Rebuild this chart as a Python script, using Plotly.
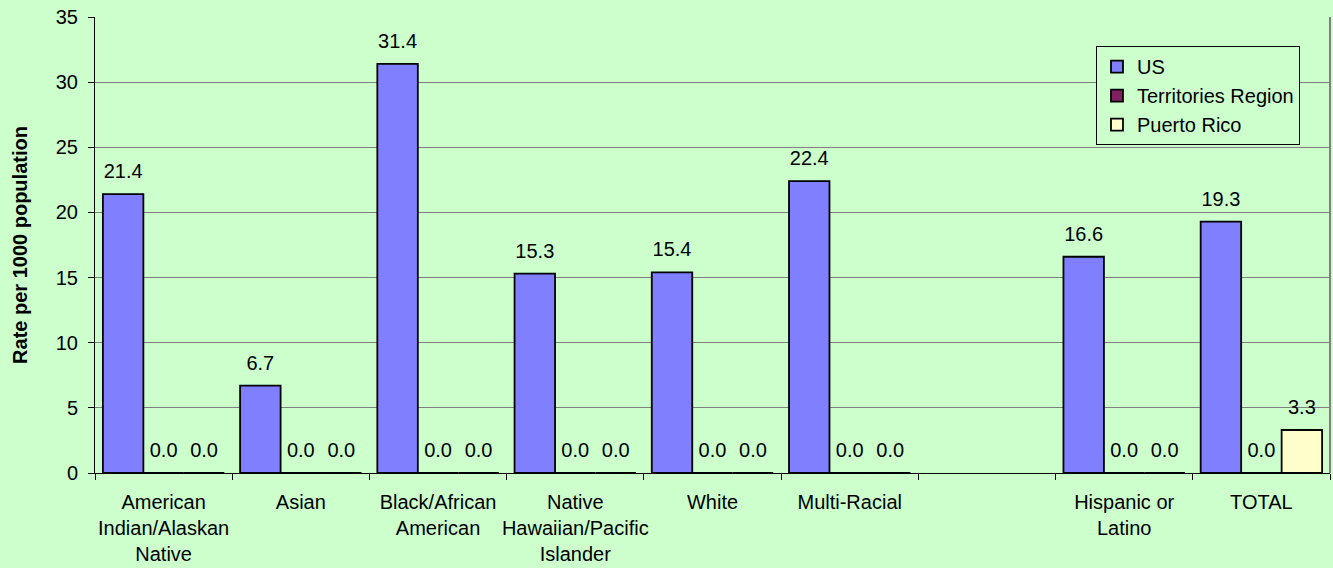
import plotly.graph_objects as go

categories = ["American<br>Indian/Alaskan<br>Native", "Asian", "Black/African<br>American",
              "Native<br>Hawaiian/Pacific<br>Islander", "White", "Multi-Racial", " ",
              "Hispanic or<br>Latino", "TOTAL"]
us = [21.4, 6.7, 31.4, 15.3, 15.4, 22.4, None, 16.6, 19.3]
territories = [0.0, 0.0, 0.0, 0.0, 0.0, 0.0, None, 0.0, 0.0]
puerto_rico = [0.0, 0.0, 0.0, 0.0, 0.0, 0.0, None, 0.0, 3.3]

series = [("US", us, "#8080FF"), ("Territories Region", territories, "#802060"),
          ("Puerto Rico", puerto_rico, "#FFFFCC")]

FONT = "Arial, Liberation Sans, sans-serif"

fig = go.Figure()
for name, vals, color in series:
    fig.add_trace(go.Bar(
        x=categories, y=vals, name=name,
        marker=dict(color=color, line=dict(color="black", width=1.8)),
        hoverinfo="x+y+name",
    ))
for name, vals, color in series:
    fig.add_trace(go.Scatter(
        x=categories, y=vals, mode="markers+text", showlegend=False,
        text=[None if v is None else f"{v:.1f}" for v in vals],
        textposition="top center", cliponaxis=False,
        marker=dict(size=16, opacity=0, color="black"),
        textfont=dict(family=FONT, size=20, color="black"),
        hoverinfo="skip",
    ))

fig.update_layout(
    barmode="group", bargap=0.115, bargroupgap=0,
    scattermode="group", scattergap=0.115,
    paper_bgcolor="#CCFFCC", plot_bgcolor="#CCFFCC",
    width=1333, height=568,
    margin=dict(l=95, r=3, t=17, b=95),
    font=dict(family=FONT, size=20, color="black"),
    showlegend=True,
    legend=dict(x=0.9757, y=0.936, xanchor="right", yanchor="top",
                bgcolor="#CCFFCC", bordercolor="black", borderwidth=1,
                font=dict(family=FONT, size=20, color="black"),
                itemwidth=30, tracegroupgap=0),
    shapes=[dict(type="line", xref="paper", yref="paper", x0=1, x1=1, y0=0, y1=1,
                 line=dict(color="#808080", width=2), layer="below")],
)
fig.update_yaxes(range=[0, 35], dtick=5, showgrid=True, gridcolor="#808080", gridwidth=1,
                 showline=True, linecolor="black", linewidth=1,
                 ticks="outside", ticklen=6, tickcolor="black", ticklabelstandoff=6,
                 title=dict(text="<b>Rate per 1000 population</b>", font=dict(size=20), standoff=22),
                 zeroline=False)
fig.update_xaxes(showline=True, linecolor="black", linewidth=1,
                 ticks="outside", tickson="boundaries", ticklen=6, tickcolor="black",
                 tickangle=0, ticklabelstandoff=11)

fig.write_html("out.html", config={"displayModeBar": False},
               post_script="document.body.style.margin='0';document.body.style.overflow='hidden';")
